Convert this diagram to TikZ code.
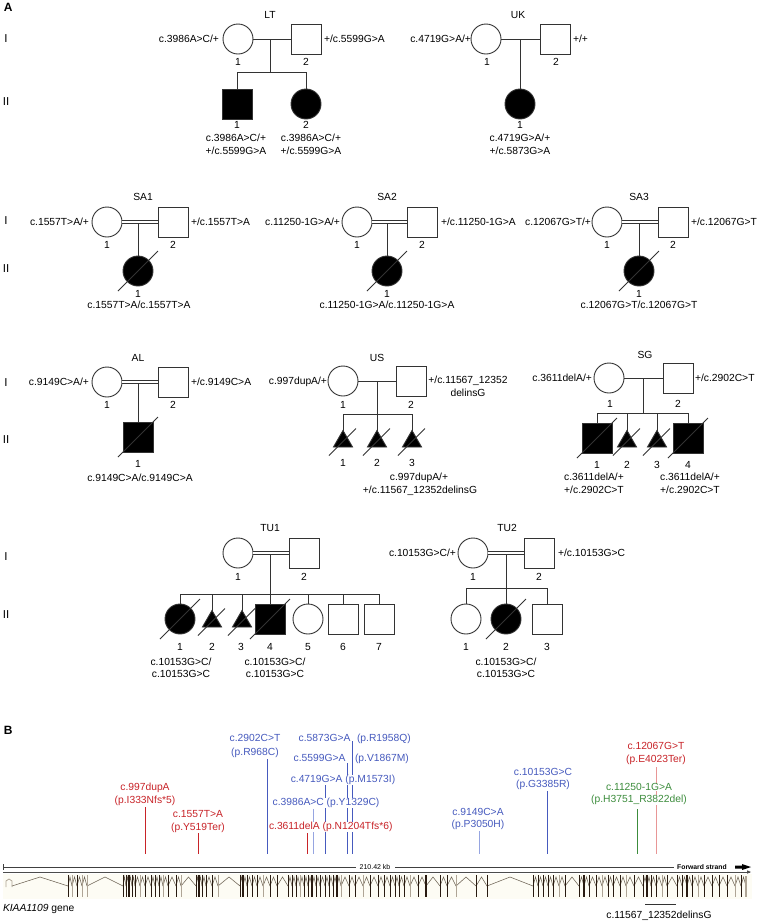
\documentclass[tikz,border=0pt]{standalone}
\usepackage{fontspec}
\setmainfont{Liberation Sans}
\usetikzlibrary{shapes.geometric}
\definecolor{mblue}{RGB}{70,90,190}
\definecolor{lblue}{RGB}{150,165,225}
\definecolor{mred}{RGB}{200,35,40}
\definecolor{lred}{RGB}{232,150,150}
\definecolor{mgreen}{RGB}{60,140,60}
\definecolor{exdark}{RGB}{40,26,16}
\definecolor{exlight}{RGB}{175,165,150}
\definecolor{intr}{RGB}{110,100,85}
\definecolor{track}{RGB}{253,252,244}
\newcommand\plab[4][base]{\node[lbl,anchor=#1] (#2) at (#3) {#4};}
\newcommand\dslash[1]{\draw[ped] ([shift={(-20,20)}]#1.center) -- ([shift={(20,-20)}]#1.center);}
\newcommand\tslash[1]{\draw[ped] ([shift={(-14,14)}]#1.center) -- ([shift={(13,-13)}]#1.center);}
\newcommand\mstem[4]{\coordinate (st#1) at (#2,#3); \coordinate (sb#1) at (#2,854); \draw[stem,draw=#4] (st#1) -- (sb#1);}
\begin{document}
\begin{tikzpicture}[x=1pt,y=-1pt,
  ped/.style={draw=black!80,line width=0.9pt},
  fem/.style={circle,ped,minimum size=30pt,inner sep=0pt,outer sep=0pt},
  mal/.style={rectangle,ped,minimum size=30pt,inner sep=0pt,outer sep=0pt},
  aff/.style={fill=black},
  mis/.style={regular polygon,regular polygon sides=3,ped,fill=black,minimum size=22pt,inner sep=0pt,outer sep=0pt},
  cons/.style={ped,double=white,double distance=2.2pt},
  lbl/.style={font=\fontsize{10.3}{12}\selectfont,inner sep=0pt,outer sep=0pt,yshift=-3.7pt},
  big/.style={font=\fontsize{11.5}{13}\selectfont},
  bold/.style={font=\fontsize{12}{14}\selectfont\bfseries},
  wb/.style={fill=white,inner sep=0.6pt},
  stem/.style={line width=1.25pt},
  exon/.style={draw=exdark,line width=0.7pt},
  intron/.style={draw=intr,line width=0.55pt}]
\useasboundingbox (0,0) rectangle (757,922);
\fill[white] (0,0) rectangle (757,922);

% ---------- Panel A labels ----------
\node[lbl,bold,anchor=base west] (PA) at (4,8) {A};
\node[lbl,big,anchor=base] (R1) at (6,39) {I};
\node[lbl,big,anchor=base] (R2) at (6,102) {II};
\node[lbl,big,anchor=base] (R3) at (6,221) {I};
\node[lbl,big,anchor=base] (R4) at (6,269) {II};
\node[lbl,big,anchor=base] (R5) at (6,383) {I};
\node[lbl,big,anchor=base] (R6) at (6,440) {II};
\node[lbl,big,anchor=base] (R7) at (6,557) {I};
\node[lbl,big,anchor=base] (R8) at (6,615) {II};

% ---------- LT ----------
\plab{LTt}{270,15}{LT}
\node[fem] (LT1) at (238,39) {};
\node[mal] (LT2) at (306,39) {};
\coordinate (LTd) at (270,39); \coordinate (LTs) at (270,72);
\node[mal,aff] (LT3) at (237,104) {};
\node[fem,aff] (LT4) at (306,104) {};
\draw[ped] (LT1) -- (LT2);
\draw[ped] (LTd) -- (LTs);
\draw[ped] (LT3.north) -- (LT3.north |- LTs) -- (LT4.north |- LTs) -- (LT4.north);
\plab{LTn1}{238,62}{1} \plab{LTn2}{306,62}{2}
\plab{LTn3}{237,125}{1} \plab{LTn4}{306,125}{2}
\plab[base east]{LTg1}{219,39}{c.3986A>C/+}
\plab[base west]{LTg2}{324,39}{+/c.5599G>A}
\plab{LTg3}{236,138}{c.3986A>C/+} \plab{LTg3b}{236,151}{+/c.5599G>A}
\plab{LTg4}{311,138}{c.3986A>C/+} \plab{LTg4b}{311,151}{+/c.5599G>A}

% ---------- UK ----------
\plab{UKt}{518,15}{UK}
\node[fem] (UK1) at (486,39) {};
\node[mal] (UK2) at (555,39) {};
\coordinate (UKd) at (520,39);
\node[fem,aff] (UK3) at (520,104) {};
\draw[ped] (UK1) -- (UK2);
\draw[ped] (UKd) -- (UK3.north);
\plab{UKn1}{487,62}{1} \plab{UKn2}{556,62}{2} \plab{UKn3}{520,125}{1}
\plab[base east]{UKg1}{471,39}{c.4719G>A/+}
\plab[base west]{UKg2}{573,39}{+/+}
\plab{UKg3}{520,138}{c.4719G>A/+} \plab{UKg3b}{520,151}{+/c.5873G>A}

% ---------- SA1 ----------
\plab{S1t}{143,197}{SA1}
\node[fem] (S1a) at (107,222) {};
\node[mal] (S1b) at (173,222) {};
\coordinate (S1d) at (138,222);
\node[fem,aff] (S1c) at (138,271) {};
\draw[ped] (S1d) -- (S1c.north);
\draw[cons] (S1a) -- (S1b);
\dslash{S1c}
\plab{S1n1}{107,245}{1} \plab{S1n2}{173,245}{2} \plab{S1n3}{138,294}{1}
\plab[base east]{S1g1}{89,222}{c.1557T>A/+}
\plab[base west]{S1g2}{191,222}{+/c.1557T>A}
\plab{S1g3}{139,305}{c.1557T>A/c.1557T>A}

% ---------- SA2 ----------
\plab{S2t}{387,197}{SA2}
\node[fem] (S2a) at (357,222) {};
\node[mal] (S2b) at (422,222) {};
\coordinate (S2d) at (387,222);
\node[fem,aff] (S2c) at (387,271) {};
\draw[ped] (S2d) -- (S2c.north);
\draw[cons] (S2a) -- (S2b);
\dslash{S2c}
\plab{S2n1}{357,245}{1} \plab{S2n2}{422,245}{2} \plab{S2n3}{387,294}{1}
\plab[base east]{S2g1}{340,222}{c.11250-1G>A/+}
\plab[base west]{S2g2}{441,222}{+/c.11250-1G>A}
\plab{S2g3}{387,305}{c.11250-1G>A/c.11250-1G>A}

% ---------- SA3 ----------
\plab{S3t}{639,197}{SA3}
\node[fem] (S3a) at (607,222) {};
\node[mal] (S3b) at (673,222) {};
\coordinate (S3d) at (639,222);
\node[fem,aff] (S3c) at (639,271) {};
\draw[ped] (S3d) -- (S3c.north);
\draw[cons] (S3a) -- (S3b);
\dslash{S3c}
\plab{S3n1}{607,245}{1} \plab{S3n2}{673,245}{2} \plab{S3n3}{639,294}{1}
\plab[base east]{S3g1}{591,222}{c.12067G>T/+}
\plab[base west]{S3g2}{691,222}{+/c.12067G>T}
\plab{S3g3}{639,305}{c.12067G>T/c.12067G>T}

% ---------- AL ----------
\plab{ALt}{138,358}{AL}
\node[fem] (ALa) at (107,382) {};
\node[mal] (ALb) at (173,382) {};
\coordinate (ALd) at (138,382);
\node[mal,aff] (ALc) at (138,437) {};
\draw[ped] (ALd) -- (ALc.north);
\draw[cons] (ALa) -- (ALb);
\dslash{ALc}
\plab{ALn1}{107,405}{1} \plab{ALn2}{173,405}{2} \plab{ALn3}{138,464}{1}
\plab[base east]{ALg1}{89,382}{c.9149C>A/+}
\plab[base west]{ALg2}{191,382}{+/c.9149C>A}
\plab{ALg3}{140,478}{c.9149C>A/c.9149C>A}

% ---------- US ----------
\plab{USt}{377,358}{US}
\node[fem] (USa) at (343,381) {};
\node[mal] (USb) at (411,381) {};
\coordinate (USd) at (377,381); \coordinate (USs) at (377,414);
\node[mis] (USc1) at (343,441.5) {};
\node[mis] (USc2) at (377,441.5) {};
\node[mis] (USc3) at (412,441.5) {};
\draw[ped] (USa) -- (USb);
\draw[ped] (USd) -- (USs);
\draw[ped] (USc1.north) -- (USc1.north |- USs) -- (USc3.north |- USs) -- (USc3.north);
\draw[ped] (USc2.north) -- (USc2.north |- USs);
\tslash{USc1} \tslash{USc2} \tslash{USc3}
\plab{USn1}{343,405}{1} \plab{USn2}{411,405}{2}
\plab{USn3}{343,463}{1} \plab{USn4}{377,463}{2} \plab{USn5}{412,463}{3}
\plab[base east]{USg1}{327,381}{c.997dupA/+}
\plab{USg2}{468,380}{+/c.11567\_12352}
\plab{USg2b}{468,393}{delinsG}
\plab{USg3}{419,477}{c.997dupA/+}
\plab{USg3b}{420,490}{+/c.11567\_12352delinsG}

% ---------- SG ----------
\plab{SGt}{645,355}{SG}
\node[fem] (SGa) at (609,378) {};
\node[mal] (SGb) at (678,378) {};
\coordinate (SGd) at (643,378); \coordinate (SGs) at (643,413);
\node[mal,aff] (SGc1) at (597,438) {};
\node[mis] (SGc2) at (627,441.5) {};
\node[mis] (SGc3) at (657,441.5) {};
\node[mal,aff] (SGc4) at (688,438) {};
\draw[ped] (SGa) -- (SGb);
\draw[ped] (SGd) -- (SGs);
\draw[ped] (SGc1.north) -- (SGc1.north |- SGs) -- (SGc4.north |- SGs) -- (SGc4.north);
\draw[ped] (SGc2.north) -- (SGc2.north |- SGs);
\draw[ped] (SGc3.north) -- (SGc3.north |- SGs);
\dslash{SGc1} \tslash{SGc2} \tslash{SGc3} \dslash{SGc4}
\plab{SGn1}{610,404}{1} \plab{SGn2}{678,404}{2}
\plab{SGn3}{597,465}{1} \plab{SGn4}{627,465}{2} \plab{SGn5}{657,465}{3} \plab{SGn6}{688,465}{4}
\plab[base east]{SGg1}{592,378}{c.3611delA/+}
\plab[base west]{SGg2}{695,378}{+/c.2902C>T}
\plab{SGg3}{594,477}{c.3611delA/+} \plab{SGg3b}{594,490}{+/c.2902C>T}
\plab{SGg4}{690,477}{c.3611delA/+} \plab{SGg4b}{690,490}{+/c.2902C>T}

% ---------- TU1 ----------
\plab{T1t}{270,528}{TU1}
\node[fem] (Ta) at (238,553) {};
\node[mal] (Tb) at (304,553) {};
\coordinate (Td) at (270,553); \coordinate (Ts) at (270,594);
\node[fem,aff] (Tc1) at (180,619) {};
\node[mis] (Tc2) at (212,621.5) {};
\node[mis] (Tc3) at (242,621.5) {};
\node[mal,aff] (Tc4) at (270,619) {};
\node[fem] (Tc5) at (308,619) {};
\node[mal] (Tc6) at (343,619) {};
\node[mal] (Tc7) at (379,619) {};
\draw[ped] (Td) -- (Tc4.north);
\draw[cons] (Ta) -- (Tb);
\draw[ped] (Tc1.north) -- (Tc1.north |- Ts) -- (Tc7.north |- Ts) -- (Tc7.north);
\foreach \nd in {Tc2,Tc3,Tc5,Tc6} \draw[ped] (\nd.north) -- (\nd.north |- Ts);
\dslash{Tc1} \tslash{Tc2} \tslash{Tc3} \dslash{Tc4}
\plab{Tn1}{238,577}{1} \plab{Tn2}{304,577}{2}
\plab{Tm1}{180,647}{1} \plab{Tm2}{212,647}{2} \plab{Tm3}{241,647}{3} \plab{Tm4}{270,647}{4}
\plab{Tm5}{308,647}{5} \plab{Tm6}{343,647}{6} \plab{Tm7}{379,647}{7}
\plab{Tg1}{181,662}{c.10153G>C/} \plab{Tg1b}{181,674}{c.10153G>C}
\plab{Tg4}{275,662}{c.10153G>C/} \plab{Tg4b}{275,674}{c.10153G>C}

% ---------- TU2 ----------
\plab{U2t}{507,528}{TU2}
\node[fem] (Ua) at (473,553) {};
\node[mal] (Ub) at (539,553) {};
\coordinate (Ud) at (506,553); \coordinate (Us) at (506,588);
\node[fem] (Uc1) at (466,619) {};
\node[fem,aff] (Uc2) at (506,619) {};
\node[mal] (Uc3) at (547,619) {};
\draw[ped] (Ud) -- (Uc2.north);
\draw[cons] (Ua) -- (Ub);
\draw[ped] (Uc1.north) -- (Uc1.north |- Us) -- (Uc3.north |- Us) -- (Uc3.north);
\dslash{Uc2}
\plab{Un1}{473,577}{1} \plab{Un2}{539,577}{2}
\plab{Um1}{466,647}{1} \plab{Um2}{506,647}{2} \plab{Um3}{547,647}{3}
\plab[base east]{Ug1}{456,553}{c.10153G>C/+}
\plab[base west]{Ug2}{558,553}{+/c.10153G>C}
\plab{Ug3}{506,662}{c.10153G>C/} \plab{Ug3b}{506,674}{c.10153G>C}

% ================= Panel B =================
\node[lbl,bold,anchor=base west] (PB) at (4,731) {B};

% stems
\mstem{a}{145.5}{807}{mred}
\mstem{b}{198.5}{832}{mred}
\mstem{c}{267.5}{759}{mblue}
\mstem{d}{307.5}{833}{mred}
\mstem{e}{313.5}{809}{lblue}
\mstem{f}{325.5}{785}{mblue}
\mstem{g}{347.5}{763}{mblue}
\mstem{h}{352.5}{741}{mblue}
\mstem{i}{479.5}{831}{lblue}
\mstem{j}{547.5}{791}{mblue}
\mstem{k}{637.5}{809}{mgreen}
\mstem{l}{656.5}{767}{lred}

% mutation labels
\begin{scope}[every node/.append style={wb}]
\plab{Ma1}{145,787}{\color{mred}c.997dupA}
\plab{Ma2}{145,800}{\color{mred}(p.I333Nfs*5)}
\plab{Mb1}{198,814}{\color{mred}c.1557T>A}
\plab{Mb2}{198,827}{\color{mred}(p.Y519Ter)}
\plab{Mc1}{255,738}{\color{mblue}c.2902C>T}
\plab{Mc2}{255,752}{\color{mblue}(p.R968C)}
\plab[base east]{Mh1}{350.5,738}{\color{mblue}c.5873G>A}
\plab[base west]{Mh2}{357,738}{\color{mblue}(p.R1958Q)}
\plab[base east]{Mg1}{345.5,758}{\color{mblue}c.5599G>A}
\plab[base west]{Mg2}{355,758}{\color{mblue}(p.V1867M)}
\plab{Mf1}{343,779}{\color{mblue}c.4719G>A (p.M1573I)}
\plab{Me1}{326,802}{\color{mblue}c.3986A>C (p.Y1329C)}
\plab[base west]{Md1}{269,826}{\color{mred}c.3611delA (p.N1204Tfs*6)}
\plab{Mi1}{478,812}{\color{mblue}c.9149C>A}
\plab{Mi2}{478,824}{\color{mblue}(p.P3050H)}
\plab{Mj1}{543,772}{\color{mblue}c.10153G>C}
\plab{Mj2}{543,784}{\color{mblue}(p.G3385R)}
\plab{Mk1}{639,787}{\color{mgreen}c.11250-1G>A}
\plab{Mk2}{639,799}{\color{mgreen}(p.H3751\_R3822del)}
\plab{Ml1}{656,746}{\color{mred}c.12067G>T}
\plab{Ml2}{656,759}{\color{mred}(p.E4023Ter)}
\end{scope}

% ruler
\coordinate (ru0) at (3,867); \coordinate (ru1) at (356,867);
\coordinate (ru2) at (395,867); \coordinate (ru3) at (674,867);
\draw[line width=0.6pt,black!75] (ru0) -- (ru1);
\draw[line width=0.6pt,black!75] (ru2) -- (ru3);
\draw[line width=0.6pt,black!75] (3,864) -- (3,870);
\node[font=\fontsize{7}{8}\selectfont,inner sep=0pt] (kb) at (375,867) {210.42 kb};
\node[font=\fontsize{6.8}{8}\selectfont\bfseries,inner sep=0pt,anchor=west] (fs) at (677,867) {Forward strand};
\fill[black] (735,865.5) -- (742,865.5) -- (742,864) -- (751,867) -- (742,870) -- (742,868.5) -- (735,868.5) -- cycle;
% gene line
\coordinate (gl0) at (3,872); \coordinate (gl1) at (750,872);
\draw[line width=0.5pt,black!70] (gl0) -- (gl1);
\fill[black!70] (751,872) -- (747,870.3) -- (747,873.7) -- cycle;
% track background
\fill[track] (3,874) rectangle (752,899);
% first exon
\draw[exlight,line width=0.8pt] (6,887) -- (6,881) -- (9,879) -- (12,881) -- (12,887);
% introns
\foreach \x [remember=\x as \lx (initially 12)] in {68,72,77,82,87,
123,126,129,132,135,140,145,151,155,159,163,168,176,181,
196,199,202,206,212,218,240,243,247,252,257,263,270,277,
288,292,296,300,304,308,312,316,320,325,329,333,337,341,
349,355,363,370,378,384,390,395,399,404,410,418,426,
440,447,456,476,487,533,538,543,548,553,559,565,
579,584,589,596,602,608,613,620,626,634,
643,647,651,656,662,667,677,682,687,692,698,704,
712,719,727,735,741,746}{
  \draw[intron] (\lx,886) -- ({(\lx+\x)/2},877) -- (\x,886);
}
% exons
\foreach \x in {68,72,77,82,87,
123,126,129,132,135,140,145,151,155,159,163,168,176,181,
196,199,202,206,212,218,240,243,247,252,257,263,270,277,
288,292,296,300,304,308,312,316,320,325,329,333,337,341,
349,355,363,370,378,384,390,395,399,404,410,418,426,
440,447,456,476,487,533,538,543,548,553,559,565,
579,584,589,596,602,608,613,620,626,634,
643,647,651,656,662,667,677,682,687,692,698,704,
712,719,727,735,741}{
  \draw[exon] (\x,875) -- (\x,897);
}
\foreach \x in {129,199,243,312,337,426,584,647,687}{
  \draw[exon,line width=1.8pt] (\x,875) -- (\x,897);
}
\foreach \x in {72,82,87,140,163,181,218,263,300,341,363,410,456,559,602,626,662,698,735}{
  \draw[draw=exlight,line width=0.8pt] (\x,875) -- (\x,897);
}
\draw[draw=exlight,line width=1.2pt] (746,876) -- (746,897);
\node[lbl,anchor=base west] (gene) at (3,908) {\textit{KIAA1109} gene};
\coordinate (dl0) at (645,904); \coordinate (dl1) at (676,904);
\draw[line width=0.8pt,black!80] (dl0) -- (dl1);
\plab{delins}{659,915}{c.11567\_12352delinsG}
\end{tikzpicture}
\end{document}
